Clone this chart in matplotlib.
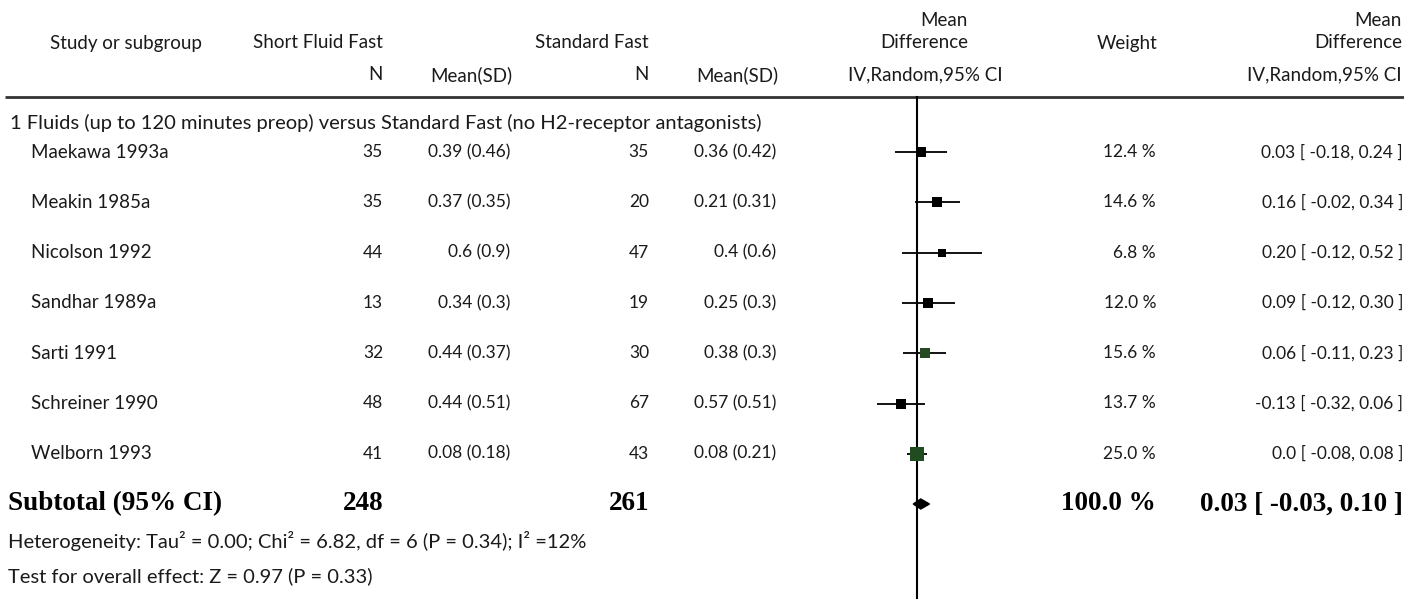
import matplotlib
matplotlib.use("Agg")
import matplotlib.pyplot as plt
from matplotlib.patches import Polygon

# ---------------- data ----------------
studies = ["Maekawa 1993a", "Meakin 1985a", "Nicolson 1992", "Sandhar 1989a",
           "Sarti 1991", "Schreiner 1990", "Welborn 1993"]
n_short = [35, 35, 44, 13, 32, 48, 41]
mean_sd_short = ["0.39 (0.46)", "0.37 (0.35)", "0.6 (0.9)", "0.34 (0.3)",
                 "0.44 (0.37)", "0.44 (0.51)", "0.08 (0.18)"]
n_std = [35, 20, 47, 19, 30, 67, 43]
mean_sd_std = ["0.36 (0.42)", "0.21 (0.31)", "0.4 (0.6)", "0.25 (0.3)",
               "0.38 (0.3)", "0.57 (0.51)", "0.08 (0.21)"]
weights = [12.4, 14.6, 6.8, 12.0, 15.6, 13.7, 25.0]
md = [0.03, 0.16, 0.20, 0.09, 0.06, -0.13, 0.0]
ci_low = [-0.18, -0.02, -0.12, -0.12, -0.11, -0.32, -0.08]
ci_high = [0.24, 0.34, 0.52, 0.30, 0.23, 0.06, 0.08]
ci_labels = ["0.03 [ -0.18, 0.24 ]", "0.16 [ -0.02, 0.34 ]", "0.20 [ -0.12, 0.52 ]",
             "0.09 [ -0.12, 0.30 ]", "0.06 [ -0.11, 0.23 ]", "-0.13 [ -0.32, 0.06 ]",
             "0.0 [ -0.08, 0.08 ]"]
total_short = 248
total_std = 261
total_md = 0.03
total_low = -0.03
total_high = 0.10
total_weight_label = "100.0 %"
total_ci_label = "0.03 [ -0.03, 0.10 ]"
group_title = "1 Fluids (up to 120 minutes preop) versus Standard Fast (no H2-receptor antagonists)"
heterogeneity = "Heterogeneity: Tau\u00b2 = 0.00; Chi\u00b2 = 6.82, df = 6 (P = 0.34); I\u00b2 =12%"
overall = "Test for overall effect: Z = 0.97 (P = 0.33)"

# ---------------- style / layout ----------------
marker_colors = ["black", "black", "black", "black", "#244a24", "black", "#1f4d1f"]
W, H = 1404, 601
FONT = ["Lato", "DejaVu Sans"]
SERIF = ["Liberation Serif", "DejaVu Serif"]
fs_head = 13.5
fs_name = 13.5
fs_num = 12.5
fs_para = 14.5
fs_bold = 19.5
txt = "#1a1a1a"

fig = plt.figure(figsize=(W / 100, H / 100), dpi=100)
fig.patch.set_facecolor("white")
ax = fig.add_axes([0, 0, 1, 1])
ax.set_xlim(0, W)
ax.set_ylim(H, 0)
ax.axis("off")

# forest axes: zero at x=917 px, 125 px per unit
fx0, fx1 = 792, 1042
axf = fig.add_axes([fx0 / W, 0, (fx1 - fx0) / W, 1])
axf.set_xlim(-1, 1)
axf.set_ylim(H, 0)
axf.axis("off")

def t(x, y, s, ha="left", fontsize=fs_num, **kw):
    kw.setdefault("family", FONT)
    kw.setdefault("color", txt)
    ax.text(x, y, s, ha=ha, va="center", fontsize=fontsize, **kw)

# column anchors (px)
x_name = 31
x_n1 = 383
x_m1 = 510
x_n2 = 649
x_m2 = 776
x_fcenter = 925
x_wt = 1156
x_ci = 1403

# headers
y_h0, y_h1, y_h2 = 20, 43, 75
t(50, y_h1, "Study or subgroup", fontsize=fs_head)
t(x_n1, y_h1, "Short Fluid Fast", ha="right", fontsize=fs_head)
t(x_n2, y_h1, "Standard Fast", ha="right", fontsize=fs_head)
t(x_n1, y_h2, "N", ha="right", fontsize=fs_head)
t(x_m1 + 2, y_h2, "Mean(SD)", ha="right", fontsize=fs_head)
t(x_n2, y_h2, "N", ha="right", fontsize=fs_head)
t(x_m2 + 2, y_h2, "Mean(SD)", ha="right", fontsize=fs_head)
t(968, y_h0, "Mean", ha="right", fontsize=fs_head)
t(968, y_h1, "Difference", ha="right", fontsize=fs_head)
t(x_fcenter, y_h2, "IV,Random,95% CI", ha="center", fontsize=fs_head)
t(x_wt + 1, y_h1, "Weight", ha="right", fontsize=fs_head)
t(1402, y_h0, "Mean", ha="right", fontsize=fs_head)
t(1402, y_h1, "Difference", ha="right", fontsize=fs_head)
t(1402, y_h2, "IV,Random,95% CI", ha="right", fontsize=fs_head)

y_line = 97
ax.plot([5, W], [y_line, y_line], color="#333333", lw=2.0, solid_capstyle="butt")

# group title
t(10, 123, group_title, fontsize=fs_para)

# rows
y0, dy = 152, 50.3
for i, name in enumerate(studies):
    y = y0 + i * dy
    t(x_name, y, name, fontsize=fs_name)
    t(x_n1, y, str(n_short[i]), ha="right")
    t(x_m1, y, mean_sd_short[i], ha="right")
    t(x_n2, y, str(n_std[i]), ha="right")
    t(x_m2, y, mean_sd_std[i], ha="right")
    t(x_wt, y, f"{weights[i]:.1f} %", ha="right")
    t(x_ci, y, ci_labels[i], ha="right")
    axf.plot([ci_low[i], ci_high[i]], [y, y], color="black", lw=1.3, solid_capstyle="butt")
    side = 2.7 * (weights[i] ** 0.5) * 0.72
    axf.plot([md[i]], [y], marker="s", markersize=side, color=marker_colors[i],
             markeredgewidth=0, linestyle="none", zorder=3)

# subtotal
y_sub = 504
bold = dict(family=SERIF, fontsize=fs_bold, weight="bold", color="black")
t(8, y_sub, "Subtotal (95% CI)", **bold)
t(x_n1, y_sub, str(total_short), ha="right", **bold)
t(x_n2, y_sub, str(total_std), ha="right", **bold)
t(x_wt, y_sub, total_weight_label, ha="right", **bold)
t(x_ci, y_sub, total_ci_label, ha="right", **bold)
dh = 5
axf.add_patch(Polygon([(total_low, y_sub), (total_md, y_sub - dh), (total_high, y_sub),
                       (total_md, y_sub + dh)], closed=True, color="black", zorder=3))

t(8, 541, heterogeneity, fontsize=fs_para)
t(8, 576, overall, fontsize=fs_para)

# zero line
axf.plot([0, 0], [y_line, 598], color="black", lw=1.5, zorder=2)

fig.savefig("out.png", dpi=100, facecolor="white")
